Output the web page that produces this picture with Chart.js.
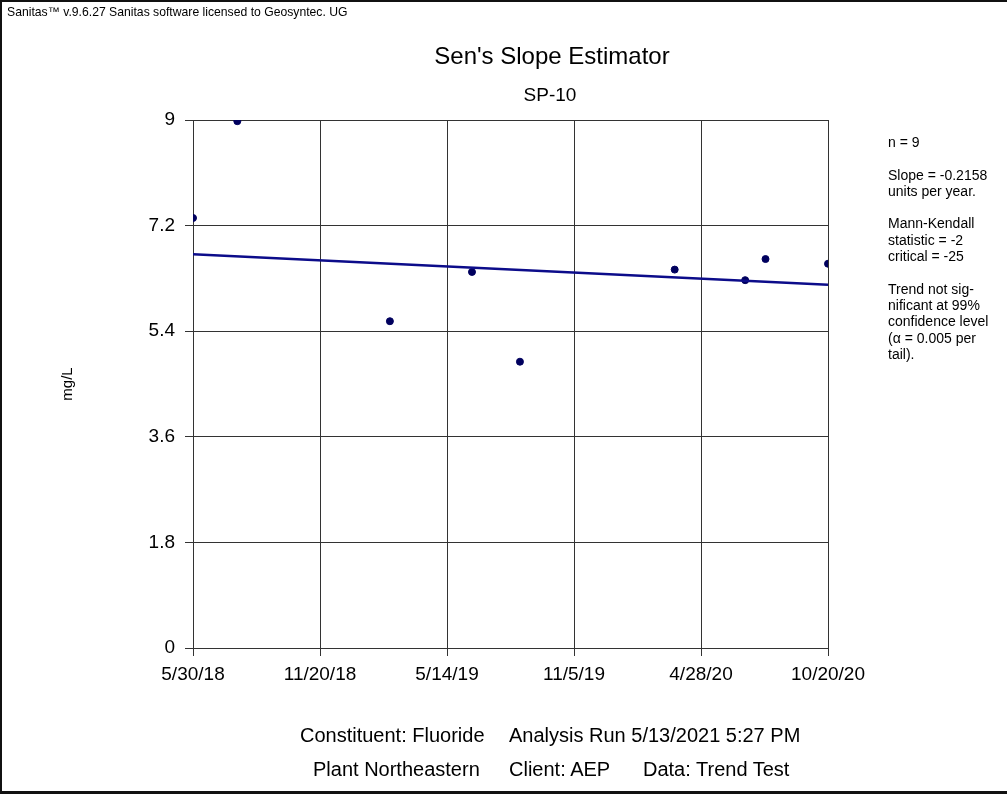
<!DOCTYPE html>
<html>
<head>
<meta charset="utf-8">
<script src="https://cdn.jsdelivr.net/npm/chart.js@4/dist/chart.umd.min.js"></script>
<style>
  html, body { margin: 0; padding: 0; background: #fff; }
  body { width: 1007px; height: 794px; position: relative; overflow: hidden; font-family: "Liberation Sans", Arial, sans-serif; color: #000; }
  #frame { position: absolute; left: 0; top: 0; width: 1005px; height: 789px; border-top: 2px solid #111; border-left: 2px solid #111; border-bottom: 3px solid #111; }
  #wrap { position: absolute; left: 0; top: 0; width: 1007px; height: 794px; }
  .t { position: absolute; white-space: nowrap; }
  #hdr { left: 7px; top: 5px; font-size: 12.2px; }
  #title { left: 0; width: 1104px; text-align: center; top: 42px; font-size: 24px; }
  #sub { left: 0; width: 1100px; text-align: center; top: 84px; font-size: 19px; }
  #notes { left: 888px; top: 134px; font-size: 14px; line-height: 16.3px; }
  .foot { font-size: 20px; }
</style>
</head>
<body>
<div id="frame"></div>
<div id="wrap"><canvas id="chart" width="1007" height="794"></canvas></div>
<div class="t" id="hdr">Sanitas™ v.9.6.27 Sanitas software licensed to Geosyntec. UG</div>
<div class="t" id="title">Sen's Slope Estimator</div>
<div class="t" id="sub">SP-10</div>
<div class="t" id="notes">n = 9<br><br>Slope = -0.2158<br>units per year.<br><br>Mann-Kendall<br>statistic = -2<br>critical = -25<br><br>Trend not sig-<br>nificant at 99%<br>confidence level<br>(α = 0.005 per<br>tail).</div>
<div class="t foot" style="left:300px;top:724px;">Constituent: Fluoride</div>
<div class="t foot" style="left:509px;top:724px;">Analysis Run 5/13/2021 5:27 PM</div>
<div class="t foot" style="left:313px;top:758px;">Plant Northeastern</div>
<div class="t foot" style="left:509px;top:758px;">Client: AEP</div>
<div class="t foot" style="left:643px;top:758px;">Data: Trend Test</div>
<script>
// sample dates (y, m, d) and fluoride values, mg/L
var sampleDates = [
  [2018, 5, 30], [2018, 7, 30], [2019, 2, 25], [2019, 6, 18], [2019, 8, 23],
  [2020, 3, 23], [2020, 6, 28], [2020, 7, 26], [2020, 10, 20]
];
var sampleValues = [7.33, 8.98, 5.57, 6.41, 4.88, 6.45, 6.27, 6.63, 6.55];

// Sen's slope line, start and end of the record
var trendDates = [[2018, 5, 30], [2020, 10, 20]];
var trendValues = [6.71, 6.19];

var xTickLabels = ['5/30/18', '11/20/18', '5/14/19', '11/5/19', '4/28/20', '10/20/20'];
var yTicks = [0, 1.8, 3.6, 5.4, 7.2, 9];
var yTickLabels = ['0', '1.8', '3.6', '5.4', '7.2', '9'];

function toTime(d) {
  return Date.UTC(d[0], d[1] - 1, d[2]);
}

var xMin = toTime(trendDates[0]);
var xMax = toTime(trendDates[1]);

var points = sampleDates.map(function (d, i) {
  return { x: toTime(d), y: sampleValues[i] };
});
var trend = trendDates.map(function (d, i) {
  return { x: toTime(d), y: trendValues[i] };
});

var gridColor = '#333333';

new Chart(document.getElementById('chart'), {
  type: 'scatter',
  data: {
    datasets: [
      {
        type: 'line',
        data: trend,
        borderColor: '#0c0c8a',
        borderWidth: 2.5,
        pointRadius: 0,
        fill: false
      },
      {
        data: points,
        backgroundColor: '#00005e',
        borderColor: '#00005e',
        pointRadius: 3.5,
        pointHoverRadius: 3.5
      }
    ]
  },
  options: {
    responsive: false,
    animation: false,
    layout: { padding: { top: 120, left: 0, right: 179, bottom: 0 } },
    plugins: { legend: { display: false }, tooltip: { enabled: false } },
    scales: {
      x: {
        type: 'linear',
        min: xMin,
        max: xMax,
        afterFit: function (s) { s.height = 146; },
        afterBuildTicks: function (s) {
          var step = (xMax - xMin) / (xTickLabels.length - 1);
          s.ticks = xTickLabels.map(function (lbl, i) { return { value: xMin + i * step }; });
        },
        ticks: {
          autoSkip: false,
          maxRotation: 0,
          padding: 7,
          color: '#000',
          font: { family: 'Liberation Sans', size: 19 },
          callback: function (v, i) { return xTickLabels[i]; }
        },
        grid: { color: gridColor, lineWidth: 1, tickLength: 8 },
        border: { color: gridColor, width: 1 }
      },
      y: {
        min: 0,
        max: 9,
        afterFit: function (s) { s.width = 193; },
        afterBuildTicks: function (s) {
          s.ticks = yTicks.map(function (v) { return { value: v }; });
        },
        ticks: {
          padding: 10,
          color: '#000',
          font: { family: 'Liberation Sans', size: 19 },
          callback: function (v, i) { return yTickLabels[i]; }
        },
        grid: { color: gridColor, lineWidth: 1, tickLength: 8 },
        border: { color: gridColor, width: 1 },
        title: {
          display: true,
          text: 'mg/L',
          color: '#000',
          font: { family: 'Liberation Sans', size: 15 },
          padding: { top: 59, bottom: 0 }
        }
      }
    }
  }
});
</script>
</body>
</html>
